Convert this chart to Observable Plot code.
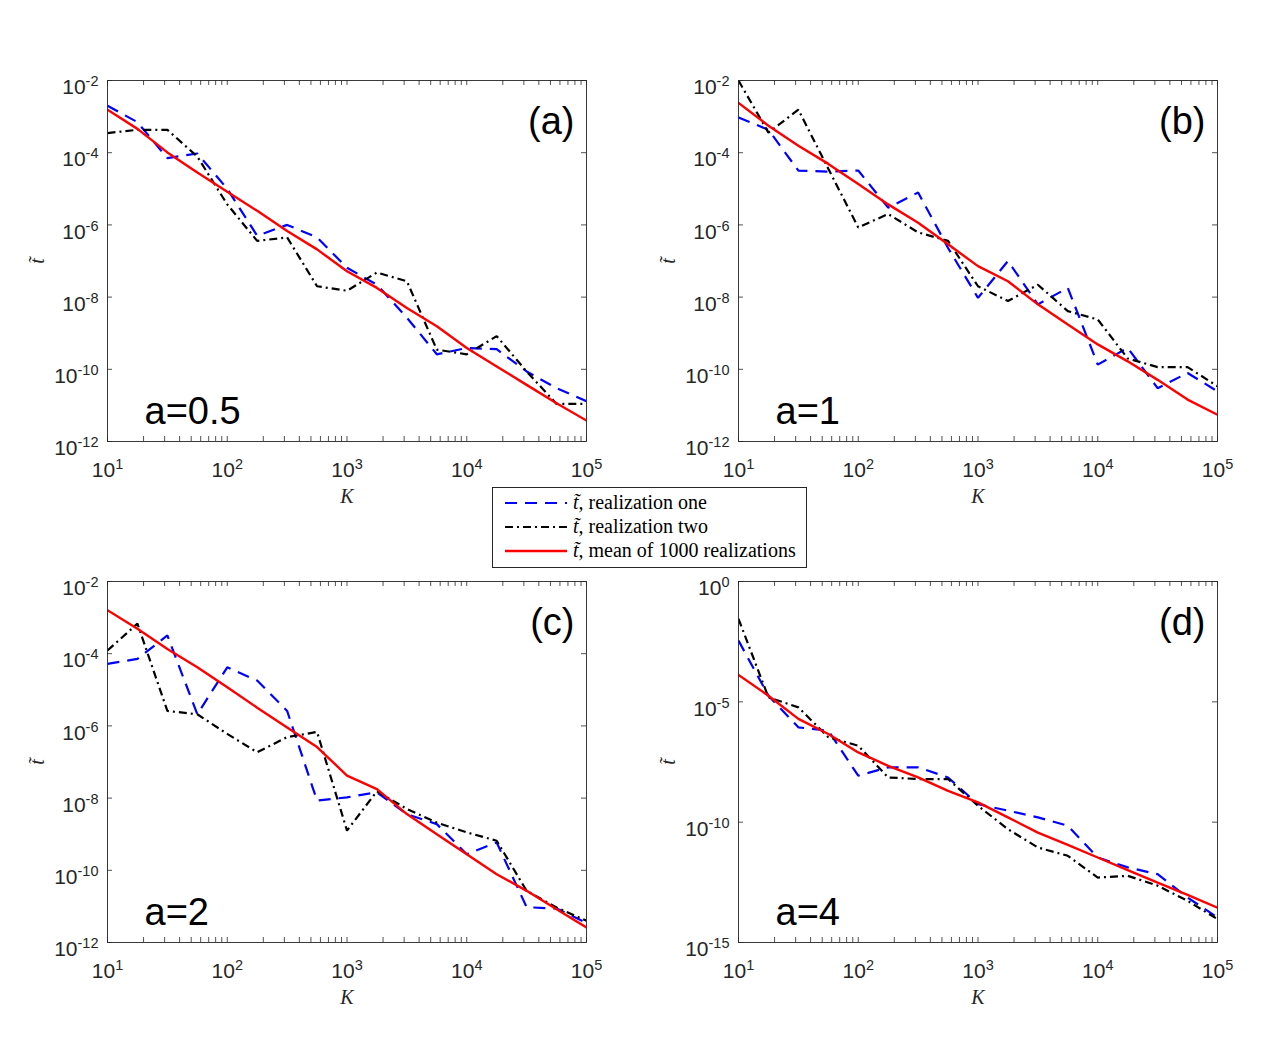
<!DOCTYPE html>
<html>
<head>
<meta charset="utf-8">
<script src="https://cdn.jsdelivr.net/npm/d3@7"></script>
<script src="https://cdn.jsdelivr.net/npm/@observablehq/plot@0.6"></script>
<style>
  body { margin: 0; background: #fff; }
  #fig { position: relative; width: 1275px; height: 1058px; background: #fff; overflow: hidden; }
  .panel { position: absolute; }
  #legend { position: absolute; left: 492px; top: 487px; width: 315px; height: 81px; box-sizing: border-box;
            border: 1px solid #262626; background: #fff; }
</style>
</head>
<body>
<div id="fig"></div>
<script>
// System size K, sampled four times per decade
const K = [10, 17.78, 31.62, 56.23, 100, 177.8, 316.2, 562.3, 1000, 1778, 3162, 5623, 10000, 17783, 31623, 56234, 100000];

// (a) a = 0.5
const oneA  = [2.0e-3, 7.0e-4, 7.1e-5, 9.5e-5, 1.0e-5, 5.0e-7, 1.0e-6, 4.5e-7, 6.5e-8, 2.2e-8, 2.7e-9, 2.6e-10, 3.9e-10, 3.6e-10, 8.7e-11, 3.0e-11, 1.3e-11];
const twoA  = [3.5e-4, 4.3e-4, 4.3e-4, 7.8e-5, 3.7e-6, 3.6e-7, 4.5e-7, 2.0e-8, 1.5e-8, 4.8e-8, 2.75e-8, 3.5e-10, 2.6e-10, 8.3e-10, 8.7e-11, 1.1e-11, 1.1e-11];
const meanA = [1.55e-3, 4.57e-4, 1.02e-4, 2.82e-5, 8.3e-6, 2.45e-6, 6.8e-7, 2.1e-7, 5.2e-8, 1.8e-8, 5.0e-9, 1.55e-9, 3.9e-10, 1.2e-10, 3.7e-11, 1.15e-11, 3.8e-12];

// (b) a = 1
const oneB  = [9.5e-4, 4.3e-4, 3.2e-5, 3.0e-5, 3.2e-5, 3.0e-6, 7.9e-6, 2.3e-7, 9.5e-9, 1.0e-7, 6.3e-9, 1.8e-8, 1.35e-10, 3.9e-10, 3.0e-11, 7.9e-11, 2.45e-11];
const twoB  = [1.0e-2, 3.6e-4, 1.55e-3, 3.6e-5, 8.5e-7, 2.0e-6, 6.2e-7, 3.6e-7, 2.0e-8, 7.8e-9, 2.2e-8, 4.1e-9, 2.4e-9, 2.0e-10, 1.15e-10, 1.15e-10, 3.4e-11];
const meanB = [2.4e-3, 5.6e-4, 1.55e-4, 4.9e-5, 1.35e-5, 3.7e-6, 1.15e-6, 2.9e-7, 7.2e-8, 2.75e-8, 6.3e-9, 1.74e-9, 4.9e-10, 1.66e-10, 5.1e-11, 1.45e-11, 5.5e-12];

// (c) a = 2
const oneC  = [5.2e-5, 7.2e-5, 3.2e-4, 2.1e-6, 4.2e-5, 1.8e-5, 2.6e-6, 8.5e-9, 1.05e-8, 1.45e-8, 3.6e-9, 1.9e-9, 2.8e-10, 5.9e-10, 9.5e-12, 8.7e-12, 3.5e-12];
const twoC  = [1.23e-4, 6.8e-4, 2.6e-6, 2.1e-6, 6.0e-7, 1.86e-7, 4.9e-7, 6.8e-7, 1.26e-9, 1.55e-8, 5.0e-9, 2.1e-9, 1.12e-9, 6.6e-10, 2.7e-11, 9.3e-12, 4.0e-12];
const meanC = [1.6e-3, 4.9e-4, 1.35e-4, 4.2e-5, 1.17e-5, 3.2e-6, 9.1e-7, 2.6e-7, 4.2e-8, 1.78e-8, 3.6e-9, 1.0e-9, 2.8e-10, 7.8e-11, 2.7e-11, 8.3e-12, 2.6e-12];

// (d) a = 4
const oneD  = [3.5e-3, 1.8e-5, 8.7e-7, 6.3e-7, 8.5e-9, 1.9e-8, 1.9e-8, 7.2e-9, 5.6e-10, 3.0e-10, 1.58e-10, 7.1e-11, 3.4e-12, 1.32e-12, 6.9e-13, 7.4e-14, 1.1e-14];
const twoD  = [2.8e-2, 1.55e-5, 5.9e-6, 3.4e-7, 1.5e-7, 7.2e-9, 6.2e-9, 6.2e-9, 4.8e-10, 5.1e-11, 8.9e-12, 4.0e-12, 5.0e-13, 5.9e-13, 2.3e-13, 5.4e-14, 9.3e-15];
const meanD = [1.32e-4, 1.8e-5, 1.95e-6, 4.6e-7, 7.9e-8, 2.2e-8, 7.2e-9, 2.0e-9, 6.6e-10, 1.58e-10, 3.7e-11, 1.15e-11, 3.4e-12, 1.02e-12, 3.1e-13, 9.6e-14, 2.8e-14];

// Axis ticks and panel texts
const xTicks = [10, 100, 1000, 10000, 100000];
const yTicksABC = [1e-12, 1e-10, 1e-8, 1e-6, 1e-4, 1e-2];
const yTicksD = [1e-15, 1e-10, 1e-5, 1];
const panelTags = ["(a)", "(b)", "(c)", "(d)"];
const aLabels = ["a=0.5", "a=1", "a=2", "a=4"];
const legendLabels = [", realization one", ", realization two", ", mean of 1000 realizations"];

const panels = [
  {tag: panelTags[0], a: aLabels[0], one: oneA, two: twoA, mean: meanA, yDomain: [1e-12, 1e-2], yTicks: yTicksABC, left: 0,   top: 0},
  {tag: panelTags[1], a: aLabels[1], one: oneB, two: twoB, mean: meanB, yDomain: [1e-12, 1e-2], yTicks: yTicksABC, left: 631, top: 0},
  {tag: panelTags[2], a: aLabels[2], one: oneC, two: twoC, mean: meanC, yDomain: [1e-12, 1e-2], yTicks: yTicksABC, left: 0,   top: 501},
  {tag: panelTags[3], a: aLabels[3], one: oneD, two: twoD, mean: meanD, yDomain: [1e-15, 1],    yTicks: yTicksD,   left: 631, top: 501}
];

const FRAME_W = 479, FRAME_H = 361;
const W = 640, H = 520, ML = 107, MT = 80;
const AXIS = "#262626";
const SANS = "'Liberation Sans', Arial, Helvetica, sans-serif";
const SERIF = "'Liberation Serif', 'Times New Roman', serif";
const BLUE_DASH = "12,8", BLACK_DASH = "8,4,2,4";

const table = values => K.map((k, i) => ({K: k, t: values[i]}));
const expLabel = d => "10^" + Math.round(Math.log10(d));

// Turn "10^-4" labels into a base with a raised exponent
function raiseExponents(svg) {
  d3.select(svg).selectAll("text").each(function () {
    const s = this.textContent;
    if (!s.includes("^")) return;
    const [base, exp] = s.split("^");
    const el = d3.select(this);
    el.text(null);
    el.append("tspan").text(base);
    el.append("tspan").attr("font-size", 14.5).attr("dy", -8).text(exp);
  });
}

const fig = document.getElementById("fig");
const xAll = d3.scaleLog().domain([10, 1e5]).ticks();

for (const p of panels) {
  const svg = Plot.plot({
    width: W, height: H,
    marginLeft: ML, marginTop: MT,
    marginRight: W - ML - FRAME_W, marginBottom: H - MT - FRAME_H,
    style: {background: "transparent", fontFamily: SANS, fontSize: "21px", color: AXIS, overflow: "visible"},
    x: {type: "log", domain: [10, 1e5]},
    y: {type: "log", domain: p.yDomain},
    marks: [
      Plot.line(table(p.one),  {x: "K", y: "t", stroke: "#0000ff", strokeWidth: 2.2, strokeDasharray: BLUE_DASH, strokeLinecap: "butt", strokeLinejoin: "miter", clip: true}),
      Plot.line(table(p.two),  {x: "K", y: "t", stroke: "#000000", strokeWidth: 2.2, strokeDasharray: BLACK_DASH, strokeLinecap: "butt", strokeLinejoin: "miter", clip: true}),
      Plot.line(table(p.mean), {x: "K", y: "t", stroke: "#ff0000", strokeWidth: 2.4, strokeLinejoin: "miter", clip: true}),
      // inward ticks on all four sides
      Plot.tickX(xAll, {x: d => d, insetTop: FRAME_H - 5, stroke: AXIS, strokeWidth: 0.8}),
      Plot.tickX(xAll, {x: d => d, insetBottom: FRAME_H - 5, stroke: AXIS, strokeWidth: 0.8}),
      Plot.tickY(p.yTicks, {y: d => d, insetRight: FRAME_W - 5, stroke: AXIS, strokeWidth: 0.8}),
      Plot.tickY(p.yTicks, {y: d => d, insetLeft: FRAME_W - 5, stroke: AXIS, strokeWidth: 0.8}),
      Plot.frame({stroke: AXIS, strokeWidth: 0.9}),
      Plot.axisX(xTicks, {tickSize: 0, tickPadding: 21, tickFormat: expLabel, label: null}),
      Plot.axisY(p.yTicks, {tickSize: 0, tickPadding: 9, tickFormat: expLabel, label: null, dy: 7}),
      Plot.text(["K"], {frameAnchor: "bottom", dy: 55, textAnchor: "middle", lineAnchor: "middle", fontFamily: SERIF, fontStyle: "italic", fontSize: 20, fill: AXIS}),
      Plot.text(["t\u0303"], {frameAnchor: "left", dx: -70, rotate: -90, textAnchor: "middle", lineAnchor: "middle", fontFamily: SERIF, fontStyle: "italic", fontSize: 20, fill: AXIS}),
      Plot.text([p.tag], {frameAnchor: "top-right", dx: -12, dy: 41, textAnchor: "end", lineAnchor: "middle", fontSize: 38, fill: "#000"}),
      Plot.text([p.a], {frameAnchor: "bottom-left", dx: 37, dy: -30, textAnchor: "start", lineAnchor: "middle", fontSize: 38, fill: "#000"})
    ]
  });
  raiseExponents(svg);
  svg.classList.add("panel");
  svg.style.left = p.left + "px";
  svg.style.top = p.top + "px";
  fig.appendChild(svg);
}

// Legend box between the two rows of panels
const legend = d3.select(fig).append("div").attr("id", "legend");
const lsvg = legend.append("svg").attr("width", 313).attr("height", 79).style("display", "block");
const styles = [
  {stroke: "#0000ff", dash: BLUE_DASH, width: 2.2},
  {stroke: "#000000", dash: BLACK_DASH, width: 2.2},
  {stroke: "#ff0000", dash: null, width: 2.4}
];
styles.forEach((s, i) => {
  const cy = 15 + i * 24;
  lsvg.append("line").attr("x1", 12).attr("x2", 74).attr("y1", cy).attr("y2", cy)
    .attr("stroke", s.stroke).attr("stroke-width", s.width)
    .attr("stroke-dasharray", s.dash).attr("stroke-linecap", "butt");
  const t = lsvg.append("text").attr("x", 80).attr("y", cy + 6)
    .attr("font-family", SERIF).attr("font-size", 20).attr("fill", "#000");
  t.append("tspan").attr("font-style", "italic").text("t\u0303");
  t.append("tspan").text(legendLabels[i]);
});
</script>
</body>
</html>
